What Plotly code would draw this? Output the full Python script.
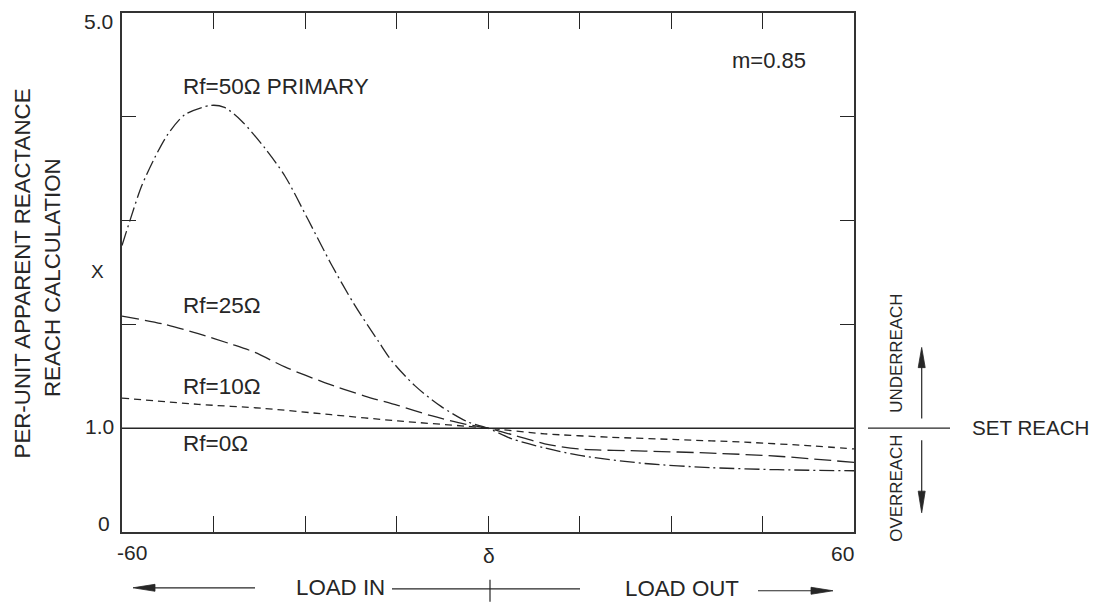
import plotly.graph_objects as go

# ---------------- data ----------------
angle_50 = [-60, -58.7, -56.8, -54.6, -52.5, -49.7, -45.4, -43.2, -40.4, -36.6, -33.3,
            -29.5, -25.7, -21.9, -18.0, -15.8, -12.0, -7.7, -3.3, 0, 3.8, 9.3, 14.8,
            25.7, 36.6, 47.5, 60]
react_50 = [2.76, 3.00, 3.33, 3.61, 3.83, 4.02, 4.11, 4.09, 3.96, 3.70, 3.43,
            3.01, 2.58, 2.19, 1.84, 1.65, 1.41, 1.21, 1.06, 1.00, 0.90, 0.81, 0.74,
            0.66, 0.62, 0.60, 0.59]

angle_25 = [-60, -53, -47.5, -42.1, -38.2, -33.3, -26.8, -20.2, -14.8, -9.3, -3.8, 0,
            3.8, 9.3, 14.8, 25.7, 36.6, 47.5, 60]
react_25 = [2.08, 2.00, 1.91, 1.81, 1.73, 1.59, 1.44, 1.31, 1.22, 1.12, 1.04, 1.00,
            0.94, 0.85, 0.80, 0.78, 0.76, 0.73, 0.67]

angle_10 = [-60, -47.5, -36.6, -25.7, -14.8, -3.8, 0, 9.3, 20.2, 31.1, 42.1, 53, 60]
react_10 = [1.29, 1.23, 1.19, 1.13, 1.07, 1.02, 1.00, 0.946, 0.913, 0.89, 0.865, 0.83, 0.80]

angle_0 = [-60, 60]
react_0 = [1.0, 1.0]

x_minor_ticks = [-45, -30, -15, 0, 15, 30, 45]
y_minor_ticks = [1, 2, 3, 4]
y_tick_labels = ["0", "1.0", "5.0"]
x_tick_labels = ["-60", "δ", "60"]
series_labels = ["Rf=50Ω PRIMARY", "Rf=25Ω", "Rf=10Ω", "Rf=0Ω"]

# ---------------- layout geometry ----------------
W, H = 1099, 602
L, R, T, B = 122, 854, 11, 532
FONT = "Liberation Sans, Arial, sans-serif"
INK = "#262626"


def px(x):
    return (x - L) / (R - L)


def py(y):
    return (B - y) / (B - T)


fig = go.Figure()

line_w = 1.3
fig.add_trace(go.Scatter(x=angle_0, y=react_0, mode="lines",
                         line=dict(color=INK, width=1.6), hoverinfo="skip"))
fig.add_trace(go.Scatter(x=angle_10, y=react_10, mode="lines",
                         line=dict(color=INK, width=line_w, dash="7px,5px", shape="spline", smoothing=0.8),
                         hoverinfo="skip"))
fig.add_trace(go.Scatter(x=angle_25, y=react_25, mode="lines",
                         line=dict(color=INK, width=line_w, dash="17px,6px", shape="spline", smoothing=0.8),
                         hoverinfo="skip"))
fig.add_trace(go.Scatter(x=angle_50, y=react_50, mode="lines",
                         line=dict(color=INK, width=line_w, dash="15px,4px,2px,4px", shape="spline", smoothing=0.8),
                         hoverinfo="skip"))

annotations = []


def text(s, x, y, size, xanchor="center", yanchor="middle", angle=0):
    annotations.append(dict(text=s, xref="paper", yref="paper", x=px(x), y=py(y),
                            xanchor=xanchor, yanchor=yanchor, showarrow=False,
                            textangle=angle, borderpad=0,
                            font=dict(family=FONT, size=size, color=INK)))


# axis tick labels
text(y_tick_labels[0], 111, 523.5, 21, xanchor="right")
text(y_tick_labels[1], 115, 426.5, 21, xanchor="right")
text(y_tick_labels[2], 114, 19.5, 21, xanchor="right")
text("X", 97, 270, 19)
text(x_tick_labels[0], 116, 552.5, 21, xanchor="left")
text(x_tick_labels[1], 489, 556, 21)
text(x_tick_labels[2], 855, 553.5, 21, xanchor="right")

# y title (two lines)
text("PER-UNIT APPARENT REACTANCE", 22.5, 273, 22.3, angle=-90)
text("REACH CALCULATION", 52.5, 276.5, 22.3, angle=-90)

# curve labels
text(series_labels[0], 182, 85, 22.5, xanchor="left")
text(series_labels[1], 182, 305, 22.5, xanchor="left")
text(series_labels[2], 182, 385.5, 22.5, xanchor="left")
text(series_labels[3], 182, 443, 22.5, xanchor="left")
text("m=0.85", 769, 59, 22)

# bottom load labels
text("LOAD IN", 340, 587.5, 22.3)
text("LOAD OUT", 681.5, 589, 22.3)

# right side
text("SET REACH", 971, 427.5, 20.6, xanchor="left")
text("UNDERREACH", 897, 353, 16.9, angle=-90)
text("OVERREACH", 897, 488.5, 16.9, angle=-90)

shapes = []


def seg(x0, y0, x1, y1, w=1.2):
    shapes.append(dict(type="line", xref="paper", yref="paper",
                       x0=px(x0), y0=py(y0), x1=px(x1), y1=py(y1),
                       line=dict(color=INK, width=w)))


def head(tipx, tipy, basex, basey, half):
    # filled narrow arrow head, tip -> base along an axis-aligned direction
    if tipx == basex:
        pts = [(tipx, tipy), (basex - half, basey), (basex + half, basey)]
    else:
        pts = [(tipx, tipy), (basex, basey - half), (basex, basey + half)]
    path = "M " + " L ".join(f"{px(a):.5f},{py(b):.5f}" for a, b in pts) + " Z"
    shapes.append(dict(type="path", xref="paper", yref="paper", path=path,
                       fillcolor=INK, line=dict(color=INK, width=0.8)))


# set reach marker and arrows
seg(868, 427.7, 950, 427.7)
seg(921.7, 418, 921.7, 362)
head(921.7, 346.7, 921.7, 367, 3.5)
seg(921.7, 440, 921.7, 496)
head(921.7, 512.7, 921.7, 491, 3.5)

# bottom load arrows
head(133, 588, 155, 588, 3.5)
seg(150, 588, 255, 588)
seg(392, 589, 580, 589)
seg(490, 580, 490, 602)
seg(758, 591, 816, 591)
head(833, 591, 811, 591, 3.5)

fig.update_layout(
    width=W, height=H,
    margin=dict(l=L, r=W - R, t=T, b=H - B, pad=0),
    paper_bgcolor="white", plot_bgcolor="white",
    showlegend=False,
    annotations=annotations,
    shapes=shapes,
    xaxis=dict(range=[-60, 60], tickvals=x_minor_ticks, ticks="inside", ticklen=16,
               tickwidth=1.2, tickcolor=INK, showticklabels=False,
               showline=True, linewidth=1.5, linecolor="#333333", mirror="ticks",
               showgrid=False, zeroline=False, fixedrange=True),
    yaxis=dict(range=[0, 5], tickvals=y_minor_ticks, ticks="inside", ticklen=14,
               tickwidth=1.2, tickcolor=INK, showticklabels=False,
               showline=True, linewidth=1.5, linecolor="#333333", mirror="ticks",
               showgrid=False, zeroline=False, fixedrange=True),
)

fig.write_html("out.html", config={"displayModeBar": False},
               post_script="document.body.style.margin='0px';document.body.style.overflow='hidden';")
